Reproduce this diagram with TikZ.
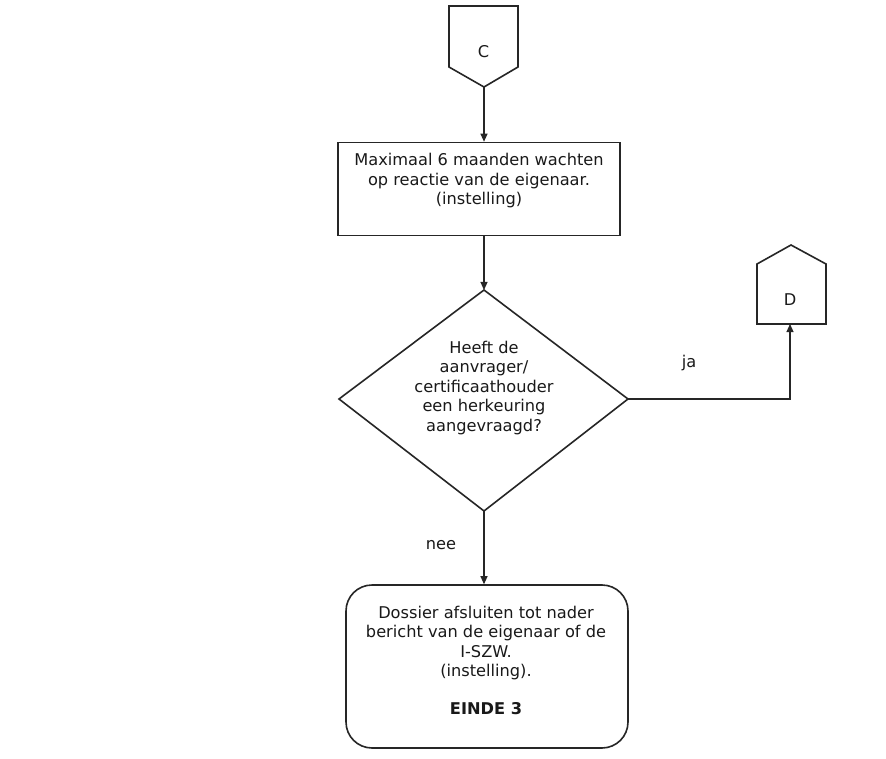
\documentclass[tikz,border=0pt]{standalone}
\usepackage{fontspec}
\setmainfont{DejaVu Sans}
\usetikzlibrary{arrows.meta}
\begin{document}
\begin{tikzpicture}[x=1pt,y=-1pt,
  shapeline/.style={draw=black!85,line width=1.6pt,line join=miter},
  conn/.style={draw=black!85,line width=1.1pt,-{Triangle[length=8pt,width=7pt]}},
  txt/.style={font=\fontsize{16.2}{19.5}\selectfont,align=center,inner sep=0pt,text=black!90},
  lbl/.style={font=\fontsize{16.2}{19.5}\selectfont,inner sep=0pt,text=black!90}]
\useasboundingbox[fill=white] (0,0) rectangle (886,759);
% connector C
\coordinate (Ctl) at (449,6);
\coordinate (Ctr) at (518,6);
\coordinate (Cr) at (518,67);
\coordinate (Cb) at (484,87);
\coordinate (Cl) at (449,67);
\draw[shapeline] (Ctl) -- (Ctr) -- (Cr) -- (Cb) -- (Cl) -- cycle;
\node[lbl] (Ct) at (483.5,52) {C};
% box 1
\node[shapeline,rectangle,minimum width=282pt,minimum height=93pt,inner sep=0pt] (b1) at (479,189) {};
\node[txt] (b1t) at (479,181) {Maximaal 6 maanden wachten\\op reactie van de eigenaar.\\(instelling)};
% diamond
\coordinate (dt) at (484,290);
\coordinate (dr) at (628,399);
\coordinate (db) at (484,511);
\coordinate (dl) at (339,399);
\draw[shapeline] (dt) -- (dr) -- (db) -- (dl) -- cycle;
\node[txt] (dtx) at (484,388) {Heeft de\\aanvrager/\\certificaathouder\\een herkeuring\\aangevraagd?};
% connector D
\coordinate (Dt) at (791,245);
\coordinate (Dr) at (826,264);
\coordinate (Dbr) at (826,324);
\coordinate (Db) at (790,324);
\coordinate (Dbl) at (757,324);
\coordinate (Dl) at (757,264);
\draw[shapeline] (Dt) -- (Dr) -- (Dbr) -- (Dbl) -- (Dl) -- cycle;
\node[lbl] (Dtx) at (790,300) {D};
% end box
\node[shapeline,rectangle,rounded corners=26pt,minimum width=282pt,minimum height=163pt,inner sep=0pt] (b2) at (487,666.5) {};
\node[txt] (b2t) at (486,660) {Dossier afsluiten tot nader\\bericht van de eigenaar of de\\I-SZW.\\(instelling).\\[18pt]\textbf{EINDE 3}};
% connectors
\draw[conn] (Cb) -- (Cb |- b1.north);
\draw[conn] (dt |- b1.south) -- (dt);
\draw[conn] (db) -- (db |- b2.north);
\draw[conn] (dr) -- (Db |- dr) -- (Db);
\node[lbl] (ja) at (689,363) {ja};
\node[lbl] (nee) at (441,545) {nee};
\end{tikzpicture}
\end{document}
